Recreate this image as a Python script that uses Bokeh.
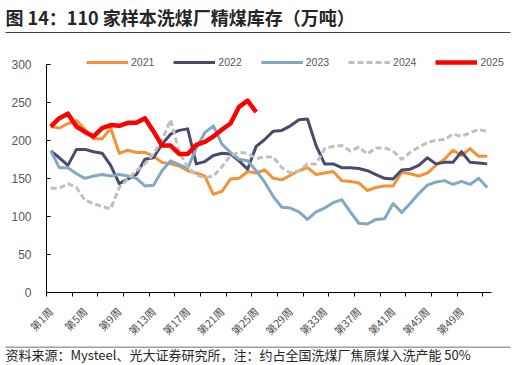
import math
from bokeh.plotting import figure
from bokeh.layouts import column
from bokeh.models import Range1d, FixedTicker, Label, BoxAnnotation, Legend, LegendItem
from bokeh.embed import file_html
from bokeh.resources import INLINE

# ---------------- data ----------------
weeks = list(range(1, 53))
week_labels = [f"第{w}周" for w in weeks]
label_weeks = list(range(1, 53, 4))
y_ticks = [0, 50, 100, 150, 200, 250, 300]

y2021 = [218, 216, 222, 226, 214, 202, 202, 216, 183, 187, 184, 184, 179, 171, 169, 166,
         160, 157, 153, 129, 133, 149, 150, 159, 157, 161, 150, 148, 154, 160, 164, 155,
         157, 159, 147, 146, 144, 134, 138, 140, 140, 158, 156, 153, 157, 167, 175, 187,
         180, 189, 179, 179]
y2022 = [186, 177, 167, 188, 188, 185, 183, 167, 143, 149, 155, 175, 177, 195, 208, 213,
         215, 169, 172, 180, 183, 182, 173, 162, 192, 201, 212, 213, 219, 227, 228, 193,
         169, 169, 164, 164, 163, 160, 155, 150, 149, 161, 162, 167, 177, 169, 171, 171,
         185, 171, 170, 169]
y2023 = [186, 164, 164, 156, 150, 153, 155, 153, 155, 153, 150, 140, 141, 160, 173, 168,
         163, 190, 210, 219, 195, 184, 175, 173, 160, 145, 126, 112, 111, 106, 96, 106,
         111, 118, 122, 106, 91, 90, 96, 97, 117, 105, 117, 130, 141, 145, 147, 142,
         146, 142, 150, 138]
y2024 = [137, 137, 143, 138, 121, 117, 113, 110, 138, 149, 160, 169, 182, 200, 227, 185,
         165, 154, 151, 153, 165, 180, 184, 183, 176, 178, 178, 164, 157, 160, 169, 169,
         189, 192, 193, 186, 191, 182, 190, 190, 186, 175, 184, 191, 197, 200, 201, 208,
         205, 210, 214, 212]
y2025 = [218, 229, 235, 218, 211, 205, 216, 220, 219, 223, 223, 229, 212, 193, 193, 182,
         182, 194, 198, 205, 214, 222, 244, 252, 237]

series = [
    ("2021", y2021, "#F39237", 3, "solid"),
    ("2022", y2022, "#4A4A6C", 3, "solid"),
    ("2023", y2023, "#80A9C2", 3, "solid"),
    ("2024", y2024, "#BFBFBF", 3, "6 3"),
    ("2025", y2025, "#FF0000", 4.5, "solid"),
]

title_text = "图 14：110 家样本洗煤厂精煤库存（万吨）"
footer_text = "资料来源：Mysteel、光大证券研究所，注：约占全国洗煤厂焦原煤入洗产能 50%"

CJK = "Noto Sans CJK SC"
W = 516


def strip(h):
    s = figure(frame_width=W, frame_height=h, output_backend="svg", toolbar_location=None,
               x_range=Range1d(0, W), y_range=Range1d(h, 0), title=None,
               x_axis_type=None, y_axis_type=None,
               min_border_left=0, min_border_right=0, min_border_top=0, min_border_bottom=0)
    s.outline_line_color = None
    s.frame_align = False
    return s


# ---------------- title strip ----------------
TH = 36
pt = strip(TH)
pt.add_layout(Label(x=5, y=16, text=title_text, text_font=CJK, text_font_style="bold",
                    text_font_size="18px", text_color="#262626", text_baseline="middle"))
pt.add_layout(BoxAnnotation(left=5, right=510, top=31.5, bottom=32.5,
                            fill_color="#404040", fill_alpha=1, line_color=None))

# ---------------- main chart ----------------
F_TOP, F_BOT, F_LEFT, AX_RIGHT, F_RIGHT = 36, 295, 46, 491, 510
Y300 = 64
MB = 51
MH = F_BOT - F_TOP + MB
px_per_unit = (F_BOT - Y300) / 300.0
px_per_week = (AX_RIGHT - F_LEFT) / 52.0
y_end = 300 + (Y300 - F_TOP) / px_per_unit
x_end = 52.5 + (F_RIGHT - AX_RIGHT) / px_per_week

p = figure(width=W, height=MH, output_backend="svg", toolbar_location=None,
           x_range=Range1d(0.5, x_end), y_range=Range1d(0, y_end), title=None,
           min_border_left=F_LEFT, min_border_right=W - F_RIGHT,
           min_border_top=0, min_border_bottom=MB)
p.outline_line_color = None
p.grid.visible = False
p.frame_align = False

renderers = []
for name, ys, color, lw, dash in series:
    r = p.line(weeks[:len(ys)], ys, line_color=color, line_width=lw, line_dash=dash,
               line_join="round", line_cap="butt")
    renderers.append((name, r))

xa = p.xaxis[0]
xa.bounds = (0.5, 52.5)
xa.ticker = FixedTicker(ticks=label_weeks, minor_ticks=[0.5 + 3 * k for k in range(18)])
xa.major_label_overrides = {w: week_labels[w - 1] for w in label_weeks}
xa.major_label_orientation = math.pi / 4
xa.major_tick_in = 0
xa.major_tick_out = 0
xa.minor_tick_in = 0
xa.minor_tick_out = 4
xa.minor_tick_line_color = "#000000"
xa.axis_line_color = "#000000"
xa.major_label_text_font = CJK
xa.major_label_text_font_size = "10.5px"
xa.major_label_text_color = "#4D4D4D"
xa.major_label_standoff = 13

ya = p.yaxis[0]
ya.bounds = (0, 300)
ya.ticker = FixedTicker(ticks=y_ticks)
ya.major_tick_in = 4
ya.major_tick_out = 0
ya.minor_tick_line_color = None
ya.axis_line_color = "#000000"
ya.major_tick_line_color = "#000000"
ya.major_label_text_font = "Liberation Sans"
ya.major_label_text_font_size = "12px"
ya.major_label_text_color = "#595959"
ya.major_label_standoff = 15

FH = F_BOT - F_TOP
legend = Legend(items=[LegendItem(label=n, renderers=[r]) for n, r in renderers],
                orientation="horizontal", location=(86 - F_LEFT, FH - (65 - F_TOP) - 7),
                padding=0, margin=0, spacing=19, glyph_width=42, glyph_height=14,
                label_height=14, label_standoff=3, label_text_font="Liberation Sans",
                label_text_font_size="10.5px", label_text_color="#595959",
                border_line_color=None, background_fill_alpha=0)
p.add_layout(legend)

# ---------------- footer strip ----------------
FTH = 365 - (F_TOP + MH)
pf = strip(FTH)
pf.add_layout(BoxAnnotation(left=5, right=510, top=0, bottom=1,
                            fill_color="#404040", fill_alpha=1, line_color=None))
pf.add_layout(Label(x=5, y=7.5, text=footer_text, text_font=CJK,
                    text_font_size="13px", text_color="#262626", text_baseline="middle"))

layout = column(pt, p, pf, spacing=0)
open("out.html", "w").write(file_html(layout, INLINE))
